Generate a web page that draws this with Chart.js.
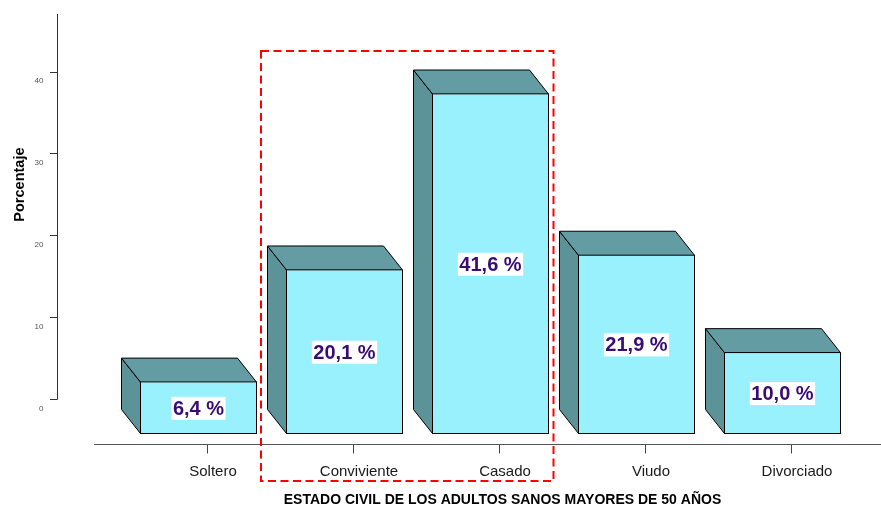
<!DOCTYPE html>
<html>
<head>
<meta charset="utf-8">
<script src="https://cdn.jsdelivr.net/npm/chart.js@4.4.1/dist/chart.umd.min.js"></script>
<style>
  html, body { margin: 0; padding: 0; background: #fff; }
  canvas { display: block; }
</style>
</head>
<body>
<canvas id="chart" width="881" height="506"></canvas>
<script>
// Estado civil de los adultos sanos mayores de 50 años (porcentaje)
const categories = ['Soltero', 'Conviviente', 'Casado', 'Viudo', 'Divorciado'];
const percentages = [6.4, 20.1, 41.6, 21.9, 10.0];
const yTickValues = [0, 10, 20, 30, 40];
const highlighted = ['Conviviente', 'Casado'];
const xAxisTitle = 'ESTADO CIVIL DE LOS ADULTOS SANOS MAYORES DE 50 AÑOS';
const yAxisTitle = 'Porcentaje';

const FONT = "'Liberation Sans', Arial, Helvetica, sans-serif";
const DEPTH_X = 19;          // horizontal depth of the 3D blocks
const DEPTH_Y = 24;          // vertical depth of the 3D blocks
const FRONT_COLOR = '#9af1fe';
const SIDE_COLOR = '#5c9399';
const TOP_COLOR = '#639ca3';
const LABEL_COLOR = '#3a0b72';

const formatPct = v => v.toFixed(1).replace('.', ',') + ' %';

function barBox(bar) {
  const p = bar.getProps(['x', 'y', 'base', 'width'], true);
  return { x: p.x, l: p.x - p.width / 2, r: p.x + p.width / 2, top: p.y, base: p.base };
}

// Draws the side and top faces behind each bar, the value tags,
// the vertical axis, the axis titles and the dashed highlight frame.
const blocks3d = {
  id: 'blocks3d',
  beforeDatasetsDraw(chart) {
    const ctx = chart.ctx;
    chart.getDatasetMeta(0).data.forEach(bar => {
      const b = barBox(bar);
      const l = b.l + 0.5, r = b.r - 0.5, t = b.top + 0.5, bo = b.base - 0.5;
      ctx.save();
      ctx.lineWidth = 1;
      ctx.strokeStyle = '#000';
      ctx.lineJoin = 'miter';
      // left face
      ctx.beginPath();
      ctx.moveTo(l, t);
      ctx.lineTo(l - DEPTH_X, t - DEPTH_Y);
      ctx.lineTo(l - DEPTH_X, bo - DEPTH_Y);
      ctx.lineTo(l, bo);
      ctx.closePath();
      ctx.fillStyle = SIDE_COLOR;
      ctx.fill();
      ctx.stroke();
      // top face
      ctx.beginPath();
      ctx.moveTo(l, t);
      ctx.lineTo(l - DEPTH_X, t - DEPTH_Y);
      ctx.lineTo(r - DEPTH_X, t - DEPTH_Y);
      ctx.lineTo(r, t);
      ctx.closePath();
      ctx.fillStyle = TOP_COLOR;
      ctx.fill();
      ctx.stroke();
      ctx.restore();
    });
  },
  afterDatasetsDraw(chart) {
    const ctx = chart.ctx;
    const values = chart.data.datasets[0].data;
    chart.getDatasetMeta(0).data.forEach((bar, i) => {
      const b = barBox(bar);
      const text = formatPct(values[i].y);
      ctx.save();
      ctx.font = `bold 20px ${FONT}`;
      const tw = ctx.measureText(text).width;
      const cy = (b.top + b.base) / 2 + 0.5;
      ctx.fillStyle = '#fff';
      ctx.fillRect(b.x - tw / 2 - 1.5, cy - 11.5, tw + 3, 23);
      ctx.fillStyle = LABEL_COLOR;
      ctx.textAlign = 'center';
      ctx.textBaseline = 'middle';
      ctx.fillText(text, b.x, cy + 1);
      ctx.restore();
    });
  },
  afterDraw(chart) {
    const ctx = chart.ctx;
    const area = chart.chartArea;
    const ys = chart.scales.y2;
    const axisX = 57.5;

    // vertical axis with its tick marks
    ctx.save();
    ctx.strokeStyle = '#333';
    ctx.lineWidth = 1;
    ctx.beginPath();
    ctx.moveTo(axisX, Math.round(ys.getPixelForValue(0)) + 0.5);
    ctx.lineTo(axisX, area.top);
    yTickValues.forEach(v => {
      const py = Math.round(ys.getPixelForValue(v)) + 0.5;
      ctx.moveTo(axisX, py);
      ctx.lineTo(axisX - 7.5, py);
    });
    ctx.stroke();

    // axis titles
    ctx.fillStyle = '#000';
    ctx.font = `bold 14px ${FONT}`;
    ctx.textAlign = 'center';
    ctx.textBaseline = 'middle';
    ctx.fillText(xAxisTitle, 502.5, 500.5);

    ctx.save();
    ctx.translate(23.5, 184.6);
    ctx.rotate(-Math.PI / 2);
    ctx.font = `bold 14.5px ${FONT}`;
    ctx.textBaseline = 'alphabetic';
    ctx.fillText(yAxisTitle, 0, 0);
    ctx.restore();

    // dashed frame around the highlighted categories
    const bars = chart.getDatasetMeta(0).data;
    const first = barBox(bars[categories.indexOf(highlighted[0])]);
    const last = barBox(bars[categories.indexOf(highlighted[highlighted.length - 1])]);
    const left = first.l - DEPTH_X - 6;
    const right = last.r + 4.5;
    const top = 51;
    const bottom = 481;
    ctx.strokeStyle = '#ff0000';
    ctx.lineWidth = 2;
    ctx.setLineDash([8, 4.5]);
    ctx.strokeRect(left, top, right - left, bottom - top);
    ctx.restore();
  }
};

new Chart(document.getElementById('chart'), {
  type: 'bar',
  data: {
    datasets: [{
      data: percentages.map((v, i) => ({ x: i, y: v })),
      backgroundColor: FRONT_COLOR,
      borderColor: '#000',
      borderWidth: 1,
      borderSkipped: false,
      categoryPercentage: 1,
      barPercentage: 117 / 146,
      xAxisID: 'x',
      yAxisID: 'y'
    }]
  },
  options: {
    responsive: false,
    animation: false,
    events: [],
    layout: { padding: { top: 14, right: 0, bottom: 0, left: 0 } },
    plugins: {
      legend: { display: false },
      tooltip: { enabled: false }
    },
    scales: {
      // scale that places the bars
      x: {
        type: 'linear',
        display: false,
        offset: false,
        bounds: 'data',
        min: -0.7158,
        max: 4.6747,
        afterBuildTicks: s => { s.ticks = categories.map((_, i) => ({ value: i })); }
      },
      // visible category axis
      x2: {
        type: 'linear',
        position: 'bottom',
        offset: false,
        bounds: 'data',
        min: -0.774,
        max: 4.6164,
        afterBuildTicks: s => { s.ticks = categories.map((_, i) => ({ value: i })); },
        afterFit: s => { s.height = 61.5; s.paddingLeft = 0; s.paddingRight = 0; },
        grid: { offset: false, drawOnChartArea: false, drawTicks: true, tickLength: 9, color: '#444', lineWidth: 1 },
        border: { display: true, color: '#555', width: 1 },
        ticks: {
          padding: 9.5,
          labelOffset: 6,
          autoSkip: false,
          maxRotation: 0,
          color: '#1a1a1a',
          font: { family: FONT, size: 15 },
          callback: value => categories[value]
        }
      },
      // scale that sizes the bars
      y: {
        type: 'linear',
        display: false,
        min: -1.2828,
        max: 51.313
      },
      // visible value axis labels
      y2: {
        type: 'linear',
        position: 'left',
        bounds: 'data',
        min: -5.559,
        max: 47.037,
        afterBuildTicks: s => { s.ticks = yTickValues.map(v => ({ value: v })); },
        afterFit: s => { s.width = 94; s.paddingTop = 0; s.paddingBottom = 0; },
        grid: { display: false, drawTicks: false },
        border: { display: false },
        ticks: {
          padding: 50.5,
          labelOffset: 9.5,
          color: '#555',
          font: { family: FONT, size: 8 }
        }
      }
    }
  },
  plugins: [blocks3d]
});
</script>
</body>
</html>
